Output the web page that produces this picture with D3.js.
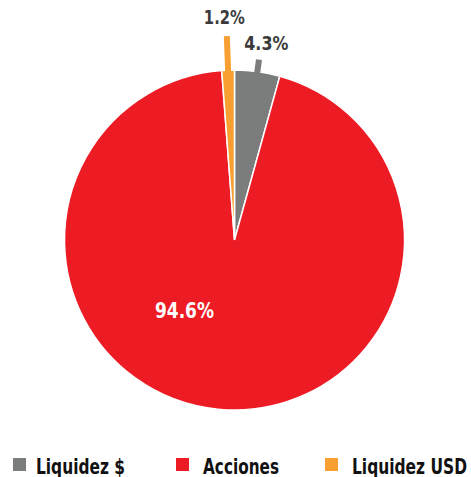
<!DOCTYPE html>
<html>
<head>
<meta charset="utf-8">
<script src="https://cdn.jsdelivr.net/npm/d3@7"></script>
<style>
  body { margin: 0; background: #fff; }
  text { font-family: "DejaVu Sans Condensed", "DejaVu Sans", sans-serif; font-weight: bold; }
</style>
</head>
<body>
<svg id="chart" width="471" height="477"></svg>
<script>
// data
const categories = ["Liquidez $", "Acciones", "Liquidez USD"]
const values = [4.3, 94.6, 1.2]
const colors = ["#7b7d7d", "#ed1c24", "#f7a031"]

const W = 471, H = 477
const cx = 234.5, cy = 240, radius = 170

const svg = d3.select("#chart")
const g = svg.append("g").attr("transform", `translate(${cx},${cy})`)

const data = categories.map((c, i) => ({ cat: c, value: values[i], color: colors[i] }))

const pie = d3.pie().value(d => d.value).sort(null)
const arc = d3.arc().innerRadius(0).outerRadius(radius)
const arcs = pie(data)

g.selectAll("path.slice")
  .data(arcs)
  .join("path")
  .attr("class", "slice")
  .attr("d", arc)
  .attr("fill", d => d.data.color)
  .attr("stroke", "#fff")
  .attr("stroke-width", 1.5)

// leader stubs for the two thin slices (outside labels)
const outside = { "Liquidez $": { len: 12, labelR: radius + 22, dx: 6 }, "Liquidez USD": { len: 34, labelR: radius + 46, dx: -2 } }
const mid = d => (d.startAngle + d.endAngle) / 2

g.selectAll("line.leader")
  .data(arcs.filter(d => outside[d.data.cat]))
  .join("line")
  .attr("class", "leader")
  .attr("x1", d => Math.sin(mid(d)) * (radius - 4))
  .attr("y1", d => -Math.cos(mid(d)) * (radius - 4))
  .attr("x2", d => Math.sin(mid(d)) * (radius + outside[d.data.cat].len))
  .attr("y2", d => -Math.cos(mid(d)) * (radius + outside[d.data.cat].len))
  .attr("stroke", d => d.data.color)
  .attr("stroke-width", 6)

const fmt = v => v.toFixed(1) + "%"

g.selectAll("text.outLabel")
  .data(arcs.filter(d => outside[d.data.cat]))
  .join("text")
  .attr("class", "outLabel")
  .attr("x", d => Math.sin(mid(d)) * outside[d.data.cat].labelR + outside[d.data.cat].dx)
  .attr("y", d => -Math.cos(mid(d)) * outside[d.data.cat].labelR)
  .attr("text-anchor", "middle")
  .attr("font-size", 20)
  .attr("fill", "#3b3b3b")
  .attr("textLength", d => d.data.cat === "Liquidez $" ? 44 : 41)
  .attr("lengthAdjust", "spacingAndGlyphs")
  .text(d => fmt(d.data.value))

// big slice label inside
g.selectAll("text.inLabel")
  .data(arcs.filter(d => !outside[d.data.cat]))
  .join("text")
  .attr("class", "inLabel")
  .attr("x", -50)
  .attr("y", 78)
  .attr("text-anchor", "middle")
  .attr("font-size", 22)
  .attr("fill", "#fff")
  .attr("textLength", 59)
  .attr("lengthAdjust", "spacingAndGlyphs")
  .text(d => fmt(d.data.value))

// legend
const legendX = [13, 176, 325]
const legendW = [89, 76, 115]
const legend = svg.append("g").attr("transform", `translate(0,458)`)
const items = legend.selectAll("g")
  .data(data)
  .join("g")
  .attr("transform", (d, i) => `translate(${legendX[i]},0)`)

items.append("rect")
  .attr("width", 13)
  .attr("height", 13)
  .attr("fill", d => d.color)

items.append("text")
  .attr("x", (d, i) => i === 0 ? 23 : 27)
  .attr("y", 16)
  .attr("font-size", 22)
  .attr("fill", "#111")
  .attr("textLength", (d, i) => legendW[i])
  .attr("lengthAdjust", "spacingAndGlyphs")
  .text(d => d.cat)
</script>
</body>
</html>
